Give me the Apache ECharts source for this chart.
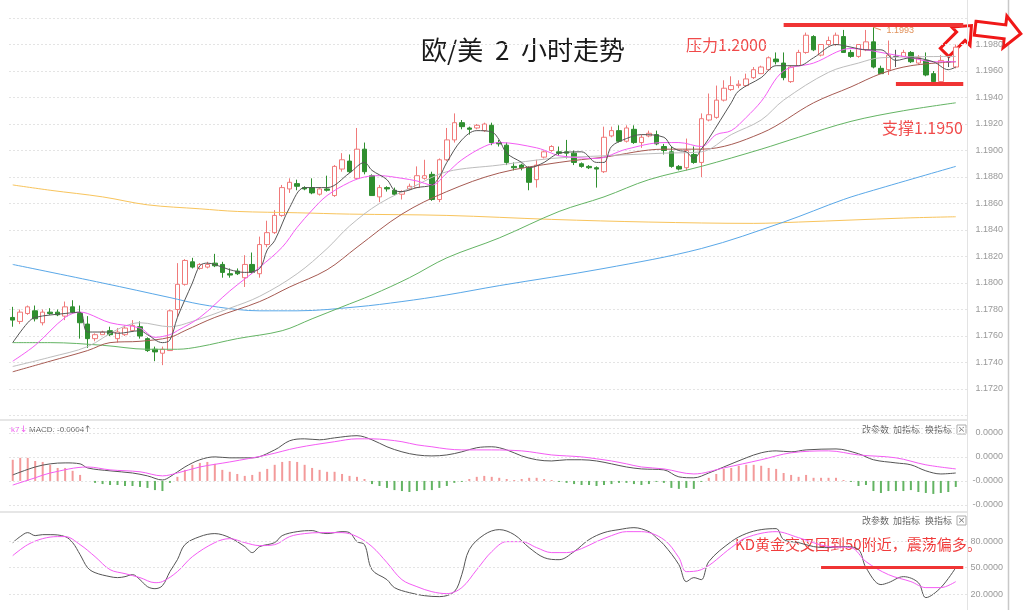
<!DOCTYPE html>
<html><head><meta charset="utf-8">
<script src="https://cdn.jsdelivr.net/npm/echarts/dist/echarts.min.js"></script>
<style>html,body{margin:0;padding:0;background:#fff}#c{width:1024px;height:610px}</style>
</head><body><div id="c"></div>
<script>
// ---------- data ----------
const categories = Array.from({length: 128}, (_, i) => String(i + 1));
// [open, close, low, high]
const candles = [
[1.1774,1.1772,1.1767,1.1782],[1.1771,1.1778,1.1769,1.1780],[1.1777,1.1782,1.1776,1.1783],[1.1779,1.1773,1.1771,1.1783],
[1.1770,1.1778,1.1768,1.1780],[1.1778,1.1777,1.1776,1.1781],[1.1778,1.1776,1.1775,1.1780],[1.1775,1.1782,1.1772,1.1786],
[1.1782,1.1778,1.1777,1.1787],[1.1777,1.1770,1.1758,1.1783],[1.1769,1.1758,1.1751,1.1775],[1.1758,1.1761,1.1756,1.1762],
[1.1761,1.1763,1.1761,1.1764],[1.1764,1.1761,1.1760,1.1767],[1.1758,1.1763,1.1755,1.1766],[1.1761,1.1766,1.1760,1.1768],
[1.1764,1.1768,1.1763,1.1772],[1.1767,1.1760,1.1758,1.1771],[1.1758,1.1749,1.1748,1.1759],[1.1750,1.1748,1.1741,1.1752],
[1.1747,1.1750,1.1738,1.1752],[1.1749,1.1779,1.1749,1.1780],[1.1780,1.1799,1.1774,1.1815],[1.1799,1.1817,1.1798,1.1818],
[1.1816,1.1812,1.1811,1.1819],[1.1811,1.1814,1.1810,1.1815],[1.1812,1.1814,1.1811,1.1816],[1.1815,1.1813,1.1812,1.1822],
[1.1814,1.1808,1.1804,1.1816],[1.1807,1.1806,1.1804,1.1811],[1.1809,1.1807,1.1806,1.1811],[1.1804,1.1814,1.1797,1.1821],
[1.1814,1.1808,1.1807,1.1823],[1.1807,1.1829,1.1804,1.1835],[1.1829,1.1838,1.1827,1.1847],[1.1838,1.1851,1.1837,1.1855],
[1.1851,1.1872,1.1850,1.1874],[1.1871,1.1876,1.1868,1.1879],[1.1875,1.1873,1.1870,1.1878],[1.1872,1.1871,1.1870,1.1873],
[1.1872,1.1868,1.1867,1.1879],[1.1867,1.1871,1.1866,1.1872],[1.1871,1.1870,1.1869,1.1881],[1.1866,1.1888,1.1865,1.1889],
[1.1886,1.1893,1.1884,1.1898],[1.1892,1.1884,1.1883,1.1897],[1.1879,1.1901,1.1878,1.1917],[1.1901,1.1884,1.1882,1.1906],
[1.1881,1.1866,1.1866,1.1882],[1.1865,1.1872,1.1861,1.1874],[1.1872,1.1871,1.1869,1.1873],[1.1870,1.1867,1.1866,1.1872],
[1.1867,1.1869,1.1863,1.1870],[1.1871,1.1873,1.1870,1.1875],[1.1872,1.1881,1.1872,1.1888],[1.1879,1.1881,1.1878,1.1893],
[1.1882,1.1863,1.1862,1.1884],[1.1863,1.1893,1.1861,1.1894],[1.1893,1.1908,1.1892,1.1917],[1.1908,1.1921,1.1906,1.1928],
[1.1921,1.1918,1.1916,1.1923],[1.1917,1.1916,1.1912,1.1918],[1.1917,1.1919,1.1916,1.1920],[1.1915,1.1920,1.1914,1.1921],
[1.1919,1.1906,1.1904,1.1921],[1.1906,1.1905,1.1903,1.1908],[1.1904,1.1891,1.1889,1.1906],[1.1888,1.1887,1.1885,1.1891],
[1.1889,1.1887,1.1885,1.1890],[1.1887,1.1876,1.1870,1.1888],[1.1878,1.1889,1.1872,1.1893],[1.1895,1.1899,1.1894,1.1900],
[1.1900,1.1903,1.1899,1.1904],[1.1899,1.1898,1.1896,1.1903],[1.1899,1.1898,1.1894,1.1908],[1.1898,1.1891,1.1889,1.1900],
[1.1890,1.1888,1.1887,1.1891],[1.1888,1.1887,1.1886,1.1889],[1.1887,1.1886,1.1872,1.1888],[1.1884,1.1910,1.1883,1.1918],
[1.1911,1.1915,1.1910,1.1918],[1.1915,1.1907,1.1906,1.1919],[1.1907,1.1917,1.1906,1.1919],[1.1916,1.1906,1.1905,1.1919],
[1.1906,1.1910,1.1902,1.1912],[1.1911,1.1913,1.1910,1.1915],[1.1912,1.1905,1.1904,1.1915],[1.1903,1.1900,1.1897,1.1905],
[1.1899,1.1888,1.1887,1.1903],[1.1888,1.1886,1.1885,1.1889],[1.1887,1.1900,1.1885,1.1909],[1.1897,1.1891,1.1890,1.1903],
[1.1891,1.1924,1.1880,1.1928],[1.1923,1.1927,1.1922,1.1943],[1.1925,1.1938,1.1924,1.1949],[1.1938,1.1947,1.1937,1.1953],
[1.1946,1.1949,1.1945,1.1956],[1.1949,1.1950,1.1947,1.1953],[1.1949,1.1954,1.1948,1.1958],[1.1955,1.1961,1.1954,1.1963],
[1.1958,1.1963,1.1958,1.1964],[1.1961,1.1970,1.1960,1.1971],[1.1969,1.1967,1.1965,1.1974],[1.1966,1.1955,1.1953,1.1974],
[1.1952,1.1963,1.1951,1.1964],[1.1964,1.1974,1.1964,1.1976],[1.1974,1.1987,1.1973,1.1989],[1.1986,1.1976,1.1975,1.1987],
[1.1972,1.1980,1.1971,1.1980],[1.1980,1.1983,1.1979,1.1986],[1.1980,1.1987,1.1979,1.1989],[1.1986,1.1974,1.1974,1.1991],
[1.1974,1.1971,1.1970,1.1976],[1.1971,1.1980,1.1970,1.1980],[1.1976,1.1982,1.1975,1.1991],[1.1982,1.1963,1.1962,1.1993],
[1.1962,1.1958,1.1958,1.1964],[1.1961,1.1972,1.1957,1.1983],[1.1971,1.1971,1.1963,1.1976],[1.1971,1.1974,1.1971,1.1976],
[1.1974,1.1967,1.1966,1.1975],[1.1966,1.1970,1.1965,1.1972],[1.1968,1.1957,1.1956,1.1974],[1.1958,1.1952,1.1951,1.1960],
[1.1952,1.1968,1.1951,1.1972],[1.1967,1.1967,1.1963,1.1971],[1.1963,1.1978,1.1962,1.1980]
];
// moving averages: [candle index, value]
const ma5 = [[0,1.1755],[2,1.1770],[3,1.1774],[7,1.1777],[9,1.1778],[10,1.1763],[13,1.1763],[14,1.1762],[17,1.1764],[18,1.1761],[20,1.1755],[21,1.1757],[22,1.1774],[24,1.1800],[25,1.1813],[26,1.1815],[28,1.1812],[29,1.1810],[31,1.1808],[33,1.1811],[34,1.1825],[35,1.1832],[37,1.1857],[39,1.1872],[42,1.1872],[45,1.1883],[47,1.1891],[48,1.1885],[50,1.1878],[51,1.1870],[52,1.1869],[54,1.1872],[56,1.1874],[57,1.1880],[58,1.1891],[60,1.1908],[62,1.1915],[64,1.1914],[65,1.1908],[66,1.1898],[68,1.1891],[69,1.1887],[71,1.1891],[72,1.1895],[73,1.1898],[76,1.1899],[78,1.1891],[79,1.1891],[80,1.1903],[82,1.1909],[84,1.1912],[87,1.1910],[88,1.1903],[89,1.1900],[90,1.1899],[91,1.1894],[92,1.1901],[93,1.1909],[96,1.1936],[97,1.1945],[100,1.1955],[102,1.1964],[105,1.1964],[107,1.1970],[110,1.1980],[112,1.1978],[114,1.1976],[116,1.1976],[118,1.1968],[120,1.1970],[123,1.1967],[125,1.1961],[126,1.1963]];
const ma10 = [[0,1.1741],[3,1.1753],[7,1.1774],[9,1.1778],[10,1.1777],[13,1.1770],[17,1.1766],[19,1.1759],[21,1.1761],[22,1.1764],[25,1.1774],[29,1.1794],[33,1.1812],[36,1.1827],[38,1.1842],[40,1.1855],[42,1.1866],[45,1.1876],[47,1.1880],[49,1.1881],[52,1.1879],[54,1.1877],[56,1.1874],[58,1.1883],[60,1.1893],[63,1.1903],[65,1.1906],[70,1.1902],[72,1.1898],[73,1.1896],[78,1.1894],[82,1.1901],[87,1.1906],[89,1.1906],[92,1.1903],[94,1.1912],[96,1.1915],[98,1.1925],[100,1.1937],[103,1.1960],[107,1.1966],[112,1.1977],[114,1.1976],[116,1.1974],[120,1.1970],[123,1.1967],[126,1.1967]];
const ma20 = [[0,1.1737],[5,1.1744],[10,1.1752],[14,1.1765],[17,1.1770],[21,1.1767],[24,1.1771],[29,1.1781],[33,1.1790],[38,1.1807],[42,1.1826],[45,1.1843],[49,1.1860],[54,1.1874],[58,1.1884],[65,1.1889],[72,1.1894],[79,1.1896],[87,1.1898],[92,1.1899],[96,1.1912],[100,1.1923],[103,1.1938],[109,1.1959],[113,1.1966],[116,1.1970],[126,1.1971]];
const ma30 = [[0,1.1733],[5,1.1741],[10,1.1749],[13,1.1755],[17,1.1756],[21,1.1759],[23,1.1764],[27,1.1774],[33,1.1786],[37,1.1797],[42,1.1810],[46,1.1827],[52,1.1852],[58,1.1869],[65,1.1883],[73,1.1891],[79,1.1895],[87,1.1901],[92,1.1901],[100,1.1913],[107,1.1936],[112,1.1948],[116,1.1958],[120,1.1964],[126,1.1967]];
const ma60 = [[0,1.1755],[5,1.1755],[12,1.1753],[18,1.1750],[22,1.1750],[25,1.1752],[30,1.1758],[36,1.1764],[40,1.1773],[44,1.1782],[48,1.1791],[53,1.1804],[58,1.1819],[65,1.1834],[73,1.1854],[79,1.1865],[85,1.1878],[92,1.1888],[100,1.1901],[105,1.1910],[112,1.1922],[119,1.1930],[126,1.1936]];
const ma120 = [[0,1.1814],[12,1.1800],[21,1.1789],[25,1.1784],[30,1.1780],[33,1.1779],[38,1.1779],[46,1.1782],[52,1.1786],[58,1.1791],[65,1.1798],[79,1.1811],[92,1.1826],[103,1.1846],[111,1.1863],[115,1.1870],[126,1.1888]];
const ma250 = [[0,1.1874],[5,1.1870],[12,1.1865],[18,1.1859],[25,1.1856],[30,1.1854],[38,1.1853],[45,1.1852],[58,1.1851],[72,1.1848],[85,1.1846],[99,1.1845],[105,1.1846],[119,1.1849],[126,1.1850]];
// MACD
const macdHist = [0.00088,0.00096,0.00096,0.00083,0.00079,0.00067,0.00054,0.00054,0.00042,0.00025,0,-0.00008,-0.00013,-0.00017,-0.00017,-0.00021,-0.00021,-0.00025,-0.00029,-0.00038,-0.00042,-0.00008,0.00017,0.00046,0.00067,0.00075,0.00079,0.00071,0.00046,0.00038,0.00029,0.00021,0.00025,0.00038,0.0005,0.00067,0.00079,0.00083,0.00079,0.00067,0.00054,0.00046,0.00038,0.00038,0.00029,0.00021,0.00017,0.00008,-0.00013,-0.00021,-0.00029,-0.00038,-0.00042,-0.00046,-0.00042,-0.00038,-0.00038,-0.00029,-0.00021,-0.00008,-0.00004,0.00008,0.00017,0.00021,0.00017,0.00013,0.00008,0.00004,0.00008,0.00013,0.00013,0.00008,0.00004,-0.00004,-0.00008,-0.00013,-0.00017,-0.00017,-0.00021,-0.00017,-0.00013,-0.00008,-0.00008,-0.00013,-0.00017,-0.00013,-0.00004,-0.00008,-0.00029,-0.00033,-0.00029,-0.00033,-0.00004,0.00013,0.00029,0.0005,0.00054,0.00063,0.00067,0.00067,0.00063,0.00054,0.0005,0.00033,0.00025,0.00017,0.00025,0.00013,0.00013,0.00013,0.00013,0.00004,-0.00004,-0.00021,-0.00017,-0.00042,-0.0005,-0.00042,-0.00042,-0.00042,-0.00038,-0.00046,-0.0005,-0.00054,-0.0005,-0.00046,-0.00025];
const macdDif = [[0,0.00025],[3,0.00058],[5,0.00071],[7,0.00075],[9,0.00071],[10,0.00054],[13,0.00042],[16,0.00033],[18,0.00021],[20,0.00004],[21,0.00017],[23,0.00058],[25,0.00088],[27,0.0010],[29,0.00096],[32,0.00096],[35,0.00129],[37,0.00167],[39,0.00175],[41,0.00171],[43,0.00179],[46,0.00188],[48,0.00171],[50,0.00142],[52,0.00121],[54,0.00108],[56,0.00104],[58,0.00108],[60,0.00121],[62,0.00138],[64,0.00142],[66,0.00129],[68,0.00104],[70,0.00088],[72,0.00083],[74,0.00088],[76,0.00088],[78,0.00083],[80,0.00071],[82,0.00058],[84,0.0005],[87,0.00046],[89,0.00017],[91,0.00013],[93,0.00033],[95,0.00058],[98,0.00096],[100,0.00117],[102,0.00125],[104,0.00121],[106,0.00129],[110,0.00133],[113,0.00113],[115,0.00088],[118,0.00075],[120,0.00067],[122,0.00042],[124,0.00029],[126,0.00033]];
const macdDea = [[0,-0.00017],[3,0.00013],[5,0.00033],[10,0.00058],[13,0.00046],[17,0.00038],[20,0.00021],[22,0.00033],[25,0.00058],[29,0.00079],[34,0.00108],[38,0.00138],[43,0.00163],[46,0.00175],[48,0.00175],[50,0.00171],[52,0.00163],[54,0.0015],[56,0.00142],[58,0.00133],[60,0.00129],[64,0.00129],[68,0.00125],[70,0.00117],[72,0.00108],[74,0.00104],[76,0.0010],[78,0.00092],[80,0.00083],[82,0.00071],[84,0.00058],[87,0.0005],[91,0.00029],[95,0.00054],[100,0.00088],[104,0.00117],[109,0.00125],[113,0.00108],[118,0.00096],[122,0.00067],[126,0.0005]];
// KD
const kdK = [[0,78.3],[1,85.1],[2,89.6],[3,86.2],[4,87.3],[5,87.3],[7,85.1],[8,78.3],[9,64.7],[10,50.0],[11,44.3],[13,39.8],[14,38.7],[15,39.8],[16,42.1],[17,36.4],[18,28.5],[19,26.2],[20,29.6],[21,45.5],[22,59.0],[23,76.0],[25,85.1],[27,88.5],[29,83.9],[31,73.8],[32,67.0],[33,73.8],[35,78.3],[36,86.2],[38,90.7],[40,91.9],[41,89.6],[42,88.5],[44,90.7],[45,89.6],[46,79.4],[47,76.0],[48,47.7],[50,36.4],[51,27.4],[53,21.7],[55,18.3],[57,17.2],[59,22.8],[60,42.1],[61,70.4],[63,87.3],[65,93.0],[67,87.3],[69,72.6],[71,61.3],[73,59.0],[75,68.1],[77,81.7],[79,89.6],[81,93.0],[83,95.2],[85,90.7],[86,83.9],[87,76.0],[89,53.4],[90,34.2],[91,38.7],[92,36.4],[93,56.8],[96,79.4],[98,88.5],[100,93.0],[102,94.1],[103,81.7],[105,78.3],[107,73.8],[109,72.6],[111,73.8],[113,70.4],[114,50.0],[116,30.8],[117,33.0],[119,39.8],[121,33.0],[122,16.1],[124,27.4],[126,50.0]];
const kdD = [[0,63.6],[2,76.0],[4,82.8],[6,85.1],[7,85.1],[9,76.0],[11,62.4],[13,47.7],[15,43.2],[17,38.7],[19,33.0],[20,34.2],[22,45.5],[24,62.4],[27,78.3],[29,82.8],[31,78.3],[33,74.9],[35,76.0],[37,85.1],[39,88.5],[41,89.6],[44,89.6],[46,85.1],[48,73.8],[50,55.7],[52,36.4],[54,28.5],[56,22.8],[58,20.6],[60,27.4],[62,47.7],[64,68.1],[66,79.4],[68,79.4],[70,72.6],[72,67.0],[74,67.0],[76,71.5],[78,79.4],[80,86.2],[82,90.7],[84,90.7],[87,81.7],[89,61.3],[90,45.5],[92,47.7],[96,72.6],[98,83.9],[102,90.7],[105,83.9],[109,73.8],[112,72.6],[114,56.8],[117,42.1],[120,34.2],[122,27.4],[124,27.4],[126,34.2]];
// axes / ticks / annotations
const priceMin = 1.1700, priceMax = 1.2000, priceStep = 0.002;
const macdTickLabels = ['-0.0000', '-0.0000', '0.0000', '0.0000']; // ticks -0.001, 0, 0.001, 0.002
const kdTickValues = [20, 50, 80];
const resistance = 1.1995, resistanceFrom = 103;
const support = 1.1950, supportFrom = 118;
const peakIndex = 115, peakValue = 1.1993;
const kdLineFrom = 108, kdLineValue = 50;
const lastIndex = 127;

// ---------- chart ----------
const chart = echarts.init(document.getElementById('c'), null, {renderer: 'canvas'});
const lab = {color: '#999', fontSize: 9, fontFamily: 'Liberation Sans', align: 'right', margin: 36};
const gridX = {left: 9, width: 958};
const red = '#f03434';

function arrow(L, s, h, hl) {
  return [[-L/2,-s],[L/2-hl,-s],[L/2-hl,-h],[L/2,0],[L/2-hl,h],[L/2-hl,s],[-L/2,s]];
}
function txt(x, y, text, size, fill, align, family) {
  return {type: 'text', x: x, y: y, silent: true, style: {text: text, fill: fill,
    font: size + 'px "' + (family || 'Noto Sans CJK SC') + '"', textAlign: align || 'left', textVerticalAlign: 'middle'}};
}
function hline(x1, y1, x2, y2, color, w) {
  return {type: 'line', silent: true, shape: {x1: x1, y1: y1, x2: x2, y2: y2}, style: {stroke: color, lineWidth: w}};
}
function lineSeries(name, data, color, xi, yi, extra) {
  return Object.assign({name: name, type: 'line', xAxisIndex: xi, yAxisIndex: yi, data: data, showSymbol: false,
    smooth: 0.35, connectNulls: true, lineStyle: {color: color, width: 1}, itemStyle: {color: color}, z: 3, silent: true}, extra || {});
}

const headers = [];
[430, 521].forEach(y => {
  headers.push(txt(862, y, '改参数', 9, '#666'));
  headers.push(txt(893, y, '加指标', 9, '#666'));
  headers.push(txt(925, y, '换指标', 9, '#666'));
  headers.push({type: 'rect', silent: true, shape: {x: 957, y: y - 5, width: 9, height: 9}, style: {fill: '#fff', stroke: '#aaa', lineWidth: 1}});
  headers.push(txt(961.5, y, '×', 9, '#777', 'center', 'DejaVu Sans'));
});

const option = {
  animation: false,
  backgroundColor: '#fff',
  grid: [
    Object.assign({top: 18, height: 397.5}, gridX),
    Object.assign({top: 428, height: 77}, gridX),
    Object.assign({top: 519, height: 84}, gridX)
  ],
  xAxis: [0, 1, 2].map(i => ({type: 'category', gridIndex: i, data: categories, boundaryGap: true, show: false})),
  yAxis: [
    {type: 'value', gridIndex: 0, position: 'right', min: priceMin, max: priceMax, interval: priceStep,
     axisLine: {show: true, lineStyle: {color: '#e3e3e3'}}, axisTick: {show: false},
     axisLabel: Object.assign({showMinLabel: false, showMaxLabel: false, formatter: v => v.toFixed(4)}, lab),
     splitLine: {show: true, lineStyle: {color: '#e4e4e4', type: [2, 2]}}},
    {type: 'value', gridIndex: 1, position: 'right', min: -0.001, max: 0.0022, interval: 0.001,
     axisLine: {show: true, lineStyle: {color: '#e3e3e3'}}, axisTick: {show: false},
     axisLabel: Object.assign({showMaxLabel: false, formatter: v => macdTickLabels[Math.round(v / 0.001) + 1] || ''}, lab),
     splitLine: {show: true, lineStyle: {color: '#e4e4e4', type: [2, 2]}}},
    {type: 'value', gridIndex: 2, position: 'right', min: 10, max: 105, interval: 10,
     axisLine: {show: true, lineStyle: {color: '#e3e3e3'}}, axisTick: {show: false},
     axisLabel: Object.assign({showMaxLabel: false, formatter: v => kdTickValues.indexOf(Math.round(v)) >= 0 ? v.toFixed(4) : ''}, lab),
     splitLine: {show: false}}
  ],
  series: [
    {type: 'candlestick', xAxisIndex: 0, yAxisIndex: 0, data: candles, barWidth: 5, z: 2, silent: true,
     itemStyle: {color: '#ffffff', color0: '#2f8f2f', borderColor: '#f07a7a', borderColor0: '#2f8f2f', borderWidth: 1, borderColorDoji: '#555'},
     markPoint: {silent: true, symbol: 'circle', symbolSize: 0.1,
       data: [{coord: [peakIndex, peakValue], label: {show: true, position: 'right', offset: [8, 3], formatter: peakValue.toFixed(4), color: '#e0915a', fontSize: 9, fontFamily: 'Liberation Sans'}}]},
     markLine: {silent: true, symbol: ['none', 'none'], label: {show: false},
       data: [
         [{coord: [resistanceFrom, resistance], lineStyle: {color: red, width: 4, type: 'solid'}}, {coord: [lastIndex, resistance]}],
         [{coord: [supportFrom, support], lineStyle: {color: red, width: 4, type: 'solid'}}, {coord: [lastIndex, support]}],
         [{coord: [peakIndex, peakValue], lineStyle: {color: '#e0915a', width: 1, type: 'solid'}}, {coord: [peakIndex + 1, peakValue - 0.0002]}]
       ]}},
    lineSeries('MA250', ma250, '#f8c45c', 0, 0),
    lineSeries('MA120', ma120, '#5aa8e8', 0, 0),
    lineSeries('MA60', ma60, '#64b464', 0, 0),
    lineSeries('MA30', ma30, '#a65a52', 0, 0),
    lineSeries('MA20', ma20, '#bdbdbd', 0, 0),
    lineSeries('MA10', ma10, '#f45cf4', 0, 0),
    lineSeries('MA5', ma5, '#555555', 0, 0),
    {type: 'bar', xAxisIndex: 1, yAxisIndex: 1, data: macdHist, barWidth: 2, silent: true,
     itemStyle: {color: p => p.value >= 0 ? '#f39a9a' : '#63b463'}},
    lineSeries('DIF', macdDif, '#555555', 1, 1),
    lineSeries('DEA', macdDea, '#f45cf4', 1, 1),
    lineSeries('K', kdK, '#555555', 2, 2, {
      markLine: {silent: true, symbol: ['none', 'none'], label: {show: false},
        data: kdTickValues.map(v => ({yAxis: v, lineStyle: {color: '#e4e4e4', type: [2, 2], width: 1}})).concat([
          [{coord: [kdLineFrom, kdLineValue], lineStyle: {color: red, width: 3, type: 'solid'}}, {coord: [lastIndex, kdLineValue]}]
        ])}}),
    lineSeries('D', kdD, '#f45cf4', 2, 2)
  ],
  graphic: [
    hline(0, 420, 967, 420, '#e6e6e6', 2),
    hline(0, 512, 967, 512, '#e6e6e6', 2),
    hline(967.5, 0, 967.5, 610, '#e3e3e3', 1),
    hline(1008.5, 0, 1008.5, 610, '#c8c8c8', 1.5),
    txt(523, 50, '欧/美  2  小时走势', 26, '#1a1a1a', 'center'),
    txt(686, 45, '压力1.2000', 16, '#f04a4a'),
    txt(882, 128, '支撑1.1950', 16, '#f04a4a'),
    txt(735, 544, 'KD黄金交叉回到50附近，震荡偏多。', 15, '#f03c3c'),
    txt(11, 430, 'k7', 8, '#f060f0', 'left', 'Liberation Sans'),
    txt(20, 430, '↓', 9, '#f060f0', 'left', 'DejaVu Sans'),
    txt(29, 430, 'MACD: -0.0004', 8, '#666', 'left', 'Liberation Sans'),
    txt(84, 430, '↑', 9, '#777', 'left', 'DejaVu Sans'),
    {type: 'polygon', x: 958, y: 39, rotation: Math.PI / 4, silent: true, shape: {points: arrow(38, 6, 13, 15)},
     style: {fill: '#fff', stroke: '#f01818', lineWidth: 3}},
    {type: 'polygon', x: 998, y: 31, rotation: -0.12, silent: true, shape: {points: arrow(46, 7, 16, 16)},
     style: {fill: '#fff', stroke: '#f01818', lineWidth: 3}}
  ].concat(headers)
};
chart.setOption(option);
</script>
</body></html>
